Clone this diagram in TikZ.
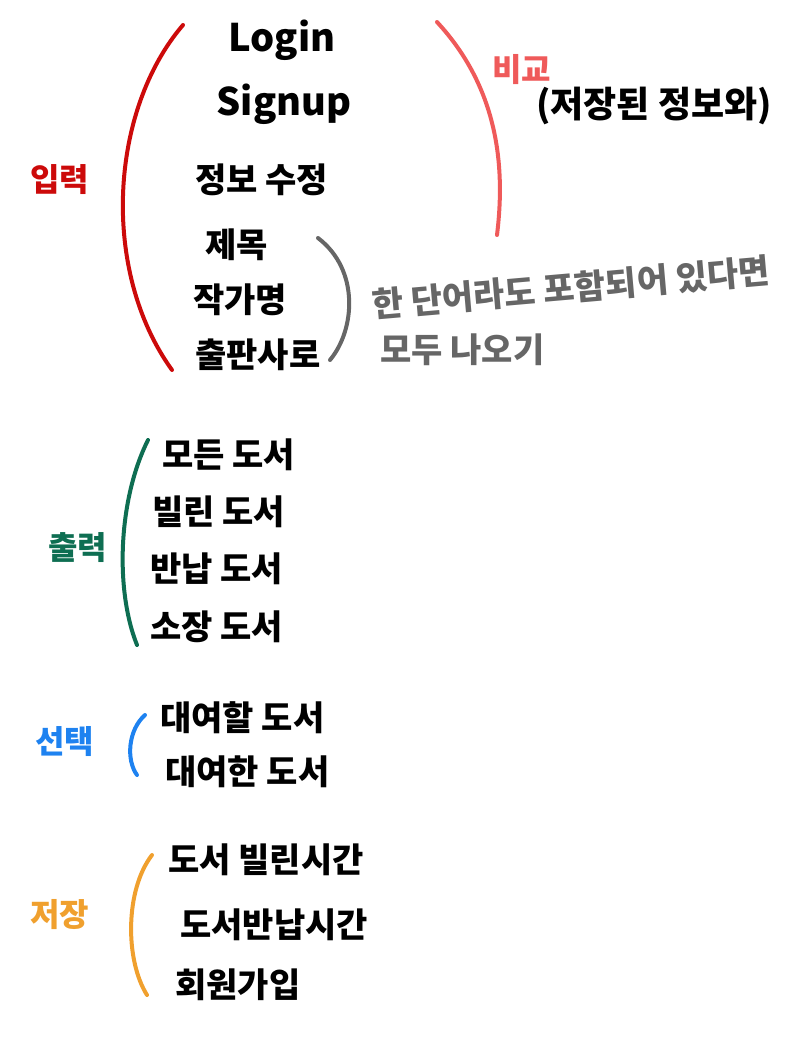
\documentclass[tikz,border=0pt]{standalone}
\usepackage{fontspec}
\setmainfont{Noto Sans CJK KR}
\usepackage{xcolor}
\usepackage{tikz}

\definecolor{inred}{HTML}{CC0A0A}
\definecolor{cmpred}{HTML}{EF5A5A}
\definecolor{outgreen}{HTML}{0E6E52}
\definecolor{selblue}{HTML}{1E82F0}
\definecolor{saveorange}{HTML}{F0A02E}
\definecolor{notegray}{HTML}{666666}

\tikzset{
  item/.style={font=\fontsize{34}{36}\selectfont\bfseries, inner sep=0pt, anchor=west},
  latin/.style={font=\fontsize{38}{40}\selectfont\bfseries, inner sep=0pt},
  tag/.style={font=\fontsize{32}{34}\selectfont\bfseries, inner sep=0pt, anchor=west},
  note/.style={font=\fontsize{34}{36}\selectfont\bfseries, inner sep=0pt, anchor=west, text=notegray},
  brace/.style={line width=4pt, line cap=round},
}

\begin{document}
\begin{tikzpicture}[x=1pt, y=-1pt]
  \useasboundingbox (0,0) rectangle (802,1058);

  % input
  \node[latin] (login) at (282,40) {Login};
  \node[latin] (signup) at (284,104) {Signup};
  \node[item] (edit) at (195,180) {정보 수정};
  \node[item] (title) at (205,245) {제목};
  \node[item] (author) at (193,300) {작가명};
  \node[item] (publisher) at (195,355) {출판사로};
  \node[tag, text=inred] (input) at (30,180) {입력};
  \draw[brace, inred] (183,25) .. controls (110,110) and (100,270) .. (172,370);

  % compare
  \draw[brace, cmpred] (437,22) .. controls (500,90) and (505,170) .. (497,235);
  \node[tag, text=cmpred] (compare) at (492,70) {비교};
  \node[item, font=\fontsize{36}{38}\selectfont\bfseries] (stored) at (536,106) {(저장된 정보와)};

  % search rule
  \draw[brace, notegray] (318,238) .. controls (360,270) and (355,330) .. (330,360);
  \node[note, rotate=5] (rule1) at (372,305) {한 단어라도 포함되어 있다면};
  \node[note] (rule2) at (380,350) {모두 나오기};

  % output
  \node[item] (allbooks) at (162,455) {모든 도서};
  \node[item] (lent) at (152,512) {빌린 도서};
  \node[item] (returned) at (150,569) {반납 도서};
  \node[item] (owned) at (150,627) {소장 도서};
  \node[tag, text=outgreen] (output) at (48,548) {출력};
  \draw[brace, outgreen] (148,440) .. controls (118,500) and (115,590) .. (137,645);

  % select
  \node[item] (torent) at (160,718) {대여할 도서};
  \node[item] (rented) at (165,772) {대여한 도서};
  \node[tag, text=selblue] (select) at (35,742) {선택};
  \draw[brace, selblue] (145,715) .. controls (128,730) and (126,760) .. (137,775);

  % save
  \node[item] (lendtime) at (168,860) {도서 빌린시간};
  \node[item] (returntime) at (180,925) {도서반납시간};
  \node[item] (join) at (175,985) {회원가입};
  \node[tag, text=saveorange] (save) at (30,915) {저장};
  \draw[brace, saveorange] (152,855) .. controls (125,890) and (125,960) .. (147,995);
\end{tikzpicture}
\end{document}
